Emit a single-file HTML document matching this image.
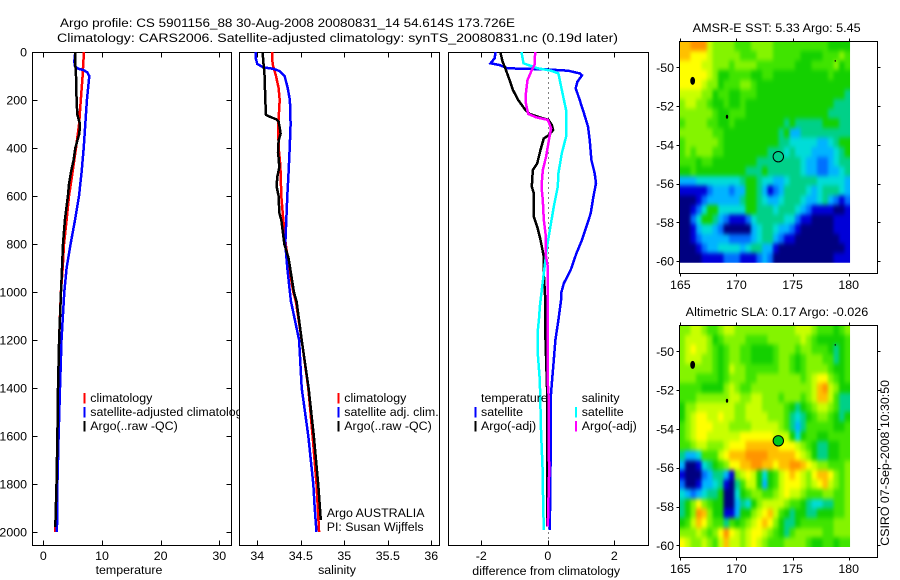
<!DOCTYPE html>
<html lang="en">
<head>
<meta charset="utf-8">
<title>Argo profile</title>
<style>
html,body{margin:0;padding:0;background:#fff;}
svg{display:block;font-family:"Liberation Sans",sans-serif;font-size:12.4px;fill:#000;}
text{fill:#000;}
.crisp{shape-rendering:crispEdges;}
</style>
</head>
<body>
<svg id="chart" xmlns="http://www.w3.org/2000/svg" width="900" height="580" viewBox="0 0 900 580">
<defs>
<filter id="soften" filterUnits="userSpaceOnUse" x="660" y="20" width="220" height="550" color-interpolation-filters="sRGB">
<feGaussianBlur stdDeviation="1.5 2.5"/>
<feComponentTransfer><feFuncA type="linear" slope="4"/></feComponentTransfer>
</filter>
</defs>
<rect x="0" y="0" width="900" height="580" fill="#fff"/>
<text x="60" y="27" textLength="455" lengthAdjust="spacingAndGlyphs">Argo profile: CS 5901156_88 30-Aug-2008 20080831_14 54.614S 173.726E</text>
<text x="57" y="42" textLength="561" lengthAdjust="spacingAndGlyphs">Climatology: CARS2006. Satellite-adjusted climatology: synTS_20080831.nc (0.19d later)</text>
<g id="panel-layer"></g>
<g id="map-layer"></g>
<text x="692.7" y="32" textLength="168" lengthAdjust="spacingAndGlyphs">AMSR-E SST: 5.33 Argo: 5.45</text>
<text x="685.7" y="316" textLength="182.6" lengthAdjust="spacingAndGlyphs">Altimetric SLA: 0.17 Argo: -0.026</text>
<text transform="translate(889,545.7) rotate(-90)" textLength="165.7" lengthAdjust="spacingAndGlyphs">CSIRO 07-Sep-2008 10:30:50</text>
</svg>
<script>
// ---------- profile data ----------
const tempTicks = [0, 10, 20, 30];
const salTicks = [34, 34.5, 35, 35.5, 36];
const diffTicks = [-2, 0, 2];
const depthTicks = [0, 200, 400, 600, 800, 1000, 1200, 1400, 1600, 1800, 2000];

const tempClimDepth = [0, 50, 100, 200, 300, 400, 500, 600, 700, 800, 900, 1000, 1200, 1400, 1600, 1800, 2000];
const tempClimValue = [6.93, 6.8, 6.7, 6.4, 6.1, 5.57, 5.0, 4.38, 3.98, 3.52, 3.3, 3.0, 2.7, 2.5, 2.4, 2.25, 2.05];
const tempSatDepth = [0, 40, 60, 70, 75, 85, 100, 200, 300, 400, 500, 600, 700, 800, 900, 1000, 1200, 1400, 1600, 1800, 1950, 2000];
const tempSatValue = [5.45, 5.28, 5.4, 5.97, 6.82, 7.5, 7.84, 7.44, 7.16, 6.88, 6.53, 6.08, 5.4, 4.66, 3.98, 3.58, 3.1, 2.85, 2.6, 2.4, 2.4, 2.25];
const tempArgoDepth = [0, 50, 100, 150, 200, 260, 280, 300, 340, 400, 450, 500, 550, 600, 700, 800, 900, 1000, 1200, 1400, 1600, 1800, 1980];
const tempArgoValue = [5.45, 5.45, 5.57, 5.63, 5.68, 5.8, 6.02, 6.25, 6.14, 5.45, 5.17, 4.72, 4.38, 4.2, 3.69, 3.35, 3.18, 3.01, 2.7, 2.5, 2.4, 2.25, 2.05];

const salClimDepth = [0, 50, 100, 150, 200, 250, 300, 400, 450, 500, 600, 650, 700, 800, 900, 1000, 1040, 1200, 1400, 1600, 1800, 2000];
const salClimValue = [34.169, 34.176, 34.215, 34.245, 34.257, 34.249, 34.241, 34.245, 34.26, 34.268, 34.276, 34.287, 34.299, 34.326, 34.368, 34.414, 34.444, 34.51, 34.586, 34.636, 34.68, 34.71];
const salSatDepth = [0, 30, 50, 60, 65, 70, 80, 100, 150, 200, 300, 400, 500, 600, 700, 800, 900, 1000, 1040, 1200, 1400, 1600, 1800, 1900, 2000];
const salSatValue = [33.98, 33.985, 34.0, 34.05, 34.088, 34.184, 34.26, 34.314, 34.349, 34.375, 34.383, 34.372, 34.36, 34.345, 34.333, 34.322, 34.345, 34.375, 34.387, 34.48, 34.51, 34.586, 34.644, 34.66, 34.68];
const salArgoDepth = [0, 40, 70, 100, 200, 262, 270, 280, 290, 320, 340, 370, 420, 440, 480, 520, 560, 600, 670, 700, 800, 860, 1000, 1040, 1200, 1400, 1600, 1800, 1950];
const salArgoValue = [34.061, 34.069, 34.077, 34.084, 34.092, 34.1, 34.146, 34.215, 34.245, 34.26, 34.268, 34.245, 34.238, 34.245, 34.253, 34.23, 34.222, 34.245, 34.253, 34.276, 34.31, 34.36, 34.421, 34.452, 34.51, 34.59, 34.65, 34.7, 34.73];

const diffTempSatDepth = [0, 26, 47, 54, 68, 72, 78, 89, 97, 124, 151, 200, 256, 311, 367, 450, 506, 547, 603, 672, 728, 783, 839, 908, 964, 1006, 1033, 1117, 1200, 1283, 1367, 1450, 1728, 1992];
const diffTempSatValue = [-1.57, -1.6, -1.72, -1.46, -1.21, -0.1, 0.61, 0.96, 1.03, 0.89, 0.84, 0.96, 1.09, 1.21, 1.26, 1.31, 1.41, 1.45, 1.37, 1.29, 1.16, 1.03, 0.86, 0.69, 0.48, 0.4, 0.4, 0.32, 0.23, 0.18, 0.13, 0.08, 0.08, 0.06];
const diffTempArgoDepth = [0, 40, 75, 117, 158, 200, 242, 258, 272, 283, 304, 325, 346, 360, 408, 464, 492, 561, 589, 686, 728, 783, 853, 922, 1019, 1075, 1200, 1408, 1978];
const diffTempArgoValue = [-1.43, -1.36, -1.26, -1.15, -1.05, -0.89, -0.67, -0.55, -0.25, 0.02, 0.12, 0.16, 0.04, -0.12, -0.22, -0.32, -0.45, -0.48, -0.42, -0.42, -0.32, -0.22, -0.12, -0.12, -0.08, -0.08, -0.07, -0.02, -0.02];
const diffSalSatDepth = [0, 47, 68, 78, 89, 158, 242, 353, 422, 506, 561, 644, 742, 811, 922, 1061, 1103, 1172, 1242, 1367, 1589, 1728, 1867, 1992];
const diffSalSatValue = [-0.79, -0.73, -0.3, 0.1, 0.32, 0.42, 0.55, 0.55, 0.42, 0.32, 0.3, 0.18, 0.06, -0.02, -0.12, -0.24, -0.26, -0.31, -0.31, -0.24, -0.2, -0.16, -0.14, -0.12];
const diffSalArgoDepth = [0, 54, 75, 117, 172, 214, 258, 272, 283, 318, 353, 394, 436, 492, 561, 617, 700, 756, 839, 894, 1075, 1380, 1422, 1756, 1978];
const diffSalArgoValue = [-0.38, -0.4, -0.48, -0.61, -0.66, -0.66, -0.59, -0.35, 0, 0.1, 0.05, 0, -0.05, -0.15, -0.19, -0.15, -0.12, -0.07, -0.07, 0, 0, 0, 0.02, 0.04, 0];

// ---------- map data ----------
const lonTicks = [165, 170, 175, 180];
const latTicks = [-50, -52, -54, -56, -58, -60];
const sstRows = [
"bbccc98888777888877777777776666",
"bbaaa98888877788877777666677787",
"aaaa998887888877777776667777867",
"aaaaa98667777667766666666667666",
"aaaa988677788766666666666666666",
"9999886776677766666666666666665",
"8998876676676666666666666666555",
"8888887667776666666666666665555",
"7888877667666666666565555566655",
"8888887766666666665633555555555",
"7888888766666666665544444334566",
"7878887766666666555454443333456",
"7776776666666655555555433223455",
"6676666666665556555555433223345",
"3334444444456654433455555444443",
"1111123332336653123555543455543",
"0001233333356654334555433453212",
"0012466444446655545554321111001",
"0024665321112455555442110000111",
"0013443200000345543321000000111",
"0012333332222345532110000000011",
"0001233444434553310000000000001",
"0000111122211123200000000000111"
];
const slaRows = [
"8899877899888888888889998777678",
"8999986788887777888888987666667",
"89a9987678877666678887887776567",
"8999887678877666678876788877567",
"8888887679887777778876788887667",
"8887777678887788888888789aa8767",
"7777666689877888888888889bc9866",
"7778888889988998887888789bb9755",
"6889999999889998888765678998755",
"689aa99a99889999888754567887656",
"789aaa9998888999998753577777667",
"789aa999999aaaaaa99964677667777",
"778998889aaabbbbbbaaa9876556677",
"53347779abbbccccbbbbba986556677",
"300145678aabbccbbabbccba9887778",
"100023553189a964679aba98abba878",
"2001334510579963679aaa989ab9878",
"4323455600467887789a99877788778",
"568a876600354689999877654455778",
"568cb8661136689ab97656655666778",
"679ba877576789aba86556777777888",
"8889878aca989aa9876578888877888",
"a9889879b9989a98777888876677677"
];
const levelColors = ["#000080","#0000d8","#0070ff","#00b4ff","#00dcd8","#00d088","#14d000","#40e400","#84f400","#c8ff00","#ffff00","#ffc000","#ff9400"];
const islandLon = [166.1, 169.16, 178.8];
const islandLat = [-50.7, -52.55, -49.67];
const islandSize = [4, 2, 1];
const argoLon = [173.73];
const argoLat = [-54.614];

// ---------- helpers ----------
const NS = "http://www.w3.org/2000/svg";
const panelLayer = document.getElementById("panel-layer");
const mapLayer = document.getElementById("map-layer");
const LINE_WIDTH = 2.5;
function makeEl(parent, tag, props) {
  const el = document.createElementNS(NS, tag);
  for (const k in props) el.setAttribute(k, props[k]);
  parent.appendChild(el);
  return el;
}
function linearAxis(v0, p0, v1, p1) {
  return function (v) { return p0 + (v - v0) * (p1 - p0) / (v1 - v0); };
}
const depthY = linearAxis(0, 52, 2000, 532);
const PANEL_TOP = 52.5, PANEL_BOTTOM = 545.5;

function drawPanel(cfg) {
  const g = makeEl(panelLayer, "g", {});
  
  
  const box = makeEl(g, "rect", {x: cfg.left, y: PANEL_TOP, width: cfg.right - cfg.left, height: PANEL_BOTTOM - PANEL_TOP, fill: "#fff", stroke: "#000", "stroke-width": 1, class: "crisp"});
  
  
  cfg.ticks.forEach(function (t) {
    const x = Math.round(cfg.xAxis(t)) + 0.5;
    const top = makeEl(g, "line", {x1: x, x2: x, y1: PANEL_TOP, y2: PANEL_TOP + 5, stroke: "#000", class: "crisp"});
    
    
    const bot = makeEl(g, "line", {x1: x, x2: x, y1: PANEL_BOTTOM - 5, y2: PANEL_BOTTOM, stroke: "#000", class: "crisp"});
    
    
    const lab = makeEl(g, "text", {x: cfg.xAxis(t), y: 560, "text-anchor": "middle"});
    lab.textContent = String(t);
    
    
  });
  cfg.series.forEach(function (s) {
    const pts = s.depth.map(function (d, i) { return cfg.xAxis(s.value[i]).toFixed(1) + "," + depthY(d).toFixed(1); }).join(" ");
    const line = makeEl(g, "polyline", {points: pts, fill: "none", stroke: s.color, "stroke-width": LINE_WIDTH, class: "crisp"});
    
    
  });
  return g;
}
function legendRow(g, x, y, color, label) {
  if (color) {
    const sw = makeEl(g, "rect", {x: x - 6.6, y: y - 9, width: 2, height: 10.5, fill: color, class: "crisp"});
    
    
  }
  const t = makeEl(g, "text", {x: x, y: y});
  t.textContent = label;
  
  
}
function plainText(g, x, y, label, anchor) {
  const t = makeEl(g, "text", {x: x, y: y, "text-anchor": anchor || "start"});
  t.textContent = label;
  
  
}

// ---------- temperature panel ----------
const tempAxis = linearAxis(0, 43.3, 30, 219.3);
const g1 = drawPanel({name: "temperature-panel", left: 32.5, right: 231.5, ticks: tempTicks, xAxis: tempAxis, series: [
  {name: "temperature-climatology-line", depth: tempClimDepth, value: tempClimValue, color: "#ff0000"},
  {name: "temperature-satellite-line", depth: tempSatDepth, value: tempSatValue, color: "#0000ff"},
  {name: "temperature-argo-line", depth: tempArgoDepth, value: tempArgoValue, color: "#000000"}
]});
depthTicks.forEach(function (d) {
  const y = Math.round(depthY(d)) + 0.5;
  const a = makeEl(g1, "line", {x1: 32.5, x2: 37.5, y1: y, y2: y, stroke: "#000", class: "crisp"});
  
  
  const b = makeEl(g1, "line", {x1: 226.5, x2: 231.5, y1: y, y2: y, stroke: "#000", class: "crisp"});
  
  
  const lab = makeEl(g1, "text", {x: 27, y: depthY(d) + 4.5, "text-anchor": "end"});
  lab.textContent = String(d);
  
  
});
legendRow(g1, 90.3, 402, "#ff0000", "climatology");
legendRow(g1, 90.3, 416, "#0000ff", "satellite-adjusted climatology");
legendRow(g1, 90.3, 430, "#000000", "Argo(..raw -QC)");
plainText(g1, 129, 574, "temperature", "middle");

// ---------- salinity panel ----------
const salAxis = linearAxis(34, 257.3, 36, 431.3);
const g2 = drawPanel({name: "salinity-panel", left: 239.5, right: 439.5, ticks: salTicks, xAxis: salAxis, series: [
  {name: "salinity-climatology-line", depth: salClimDepth, value: salClimValue, color: "#ff0000"},
  {name: "salinity-satellite-line", depth: salSatDepth, value: salSatValue, color: "#0000ff"},
  {name: "salinity-argo-line", depth: salArgoDepth, value: salArgoValue, color: "#000000"}
]});
legendRow(g2, 344.3, 402, "#ff0000", "climatology");
legendRow(g2, 344.3, 416, "#0000ff", "satellite adj. clim.");
legendRow(g2, 344.3, 430, "#000000", "Argo(..raw -QC)");
plainText(g2, 326.7, 517, "Argo AUSTRALIA");
plainText(g2, 326.7, 531, "PI: Susan Wijffels");
plainText(g2, 337, 574, "salinity", "middle");

// ---------- difference panel ----------
const diffAxis = linearAxis(-2, 481.3, 2, 614.3);
const g3 = drawPanel({name: "difference-panel", left: 448.5, right: 648.5, ticks: diffTicks, xAxis: diffAxis, series: []});
const zeroX = Math.round(diffAxis(0)) + 0.5;
const zeroLine = makeEl(g3, "line", {x1: zeroX, x2: zeroX, y1: PANEL_TOP, y2: PANEL_BOTTOM, stroke: "#000", "stroke-dasharray": "1 4", class: "crisp"});


[
  {name: "diff-temperature-satellite-line", depth: diffTempSatDepth, value: diffTempSatValue, color: "#0000ff"},
  {name: "diff-temperature-argo-line", depth: diffTempArgoDepth, value: diffTempArgoValue, color: "#000000"},
  {name: "diff-salinity-satellite-line", depth: diffSalSatDepth, value: diffSalSatValue, color: "#00ffff"},
  {name: "diff-salinity-argo-line", depth: diffSalArgoDepth, value: diffSalArgoValue, color: "#ff00ff"}
].forEach(function (s) {
  const pts = s.depth.map(function (d, i) { return diffAxis(s.value[i]).toFixed(1) + "," + depthY(d).toFixed(1); }).join(" ");
  const line = makeEl(g3, "polyline", {points: pts, fill: "none", stroke: s.color, "stroke-width": LINE_WIDTH, class: "crisp"});
  
  
});
legendRow(g3, 481, 402, null, "temperature");
legendRow(g3, 481, 416, "#0000ff", "satellite");
legendRow(g3, 481, 430, "#000000", "Argo(-adj)");
legendRow(g3, 581.7, 402, null, "salinity");
legendRow(g3, 581.7, 416, "#00ffff", "satellite");
legendRow(g3, 581.7, 430, "#ff00ff", "Argo(-adj)");
plainText(g3, 472.3, 575, "difference from climatology");

// ---------- maps ----------
function drawMap(cfg) {
  const g = makeEl(mapLayer, "g", {});
  
  
  const lonX = linearAxis(165, 680.3, 180, 848.7);
  const latY = linearAxis(-50, cfg.yAt50, -60, cfg.yAt60);
  const lonStart = 164.91, lonEnd = 180.12, latStart = -48.66, latEnd = -60.09;
  const nRows = cfg.rows.length;
  const clipId = cfg.name + "-clip";
  const defs = makeEl(g, "clipPath", {id: clipId});
  makeEl(defs, "rect", {x: lonX(lonStart), y: latY(latStart), width: lonX(lonEnd) - lonX(lonStart), height: latY(latEnd) - latY(latStart)});
  const clipped = makeEl(g, "g", {"clip-path": "url(#" + clipId + ")"});
  
  
  const cells = makeEl(clipped, "g", {filter: "url(#soften)"});
  
  
  cfg.rows.forEach(function (row, r) {
    const nCols = row.length;
    for (let c = 0; c < nCols; c++) {
      const x0 = lonX(lonStart + (lonEnd - lonStart) * c / nCols);
      const x1 = lonX(lonStart + (lonEnd - lonStart) * (c + 1) / nCols);
      const y0 = latY(latStart + (latEnd - latStart) * r / nRows);
      const y1 = latY(latStart + (latEnd - latStart) * (r + 1) / nRows);
      const cell = makeEl(cells, "rect", {x: x0.toFixed(1), y: y0.toFixed(1), width: (x1 - x0 + 0.6).toFixed(1), height: (y1 - y0 + 0.6).toFixed(1), fill: levelColors[parseInt(row.charAt(c), 16)], class: "crisp"});
      
      
    }
  });
  const frame = makeEl(g, "rect", {x: 679.5, y: cfg.top, width: 198, height: cfg.bottom - cfg.top, fill: "none", stroke: "#000", class: "crisp"});
  
  
  lonTicks.forEach(function (t) {
    const x = Math.round(lonX(t)) + 0.5;
    const a = makeEl(g, "line", {x1: x, x2: x, y1: cfg.top - 3, y2: cfg.top, stroke: "#000", class: "crisp"});
    
    
    const b = makeEl(g, "line", {x1: x, x2: x, y1: cfg.bottom, y2: cfg.bottom + 3, stroke: "#000", class: "crisp"});
    
    
    const lab = makeEl(g, "text", {x: lonX(t), y: cfg.labelY, "text-anchor": "middle"});
    lab.textContent = String(t);
    
    
  });
  latTicks.forEach(function (t) {
    const y = Math.round(latY(t)) + 0.5;
    const a = makeEl(g, "line", {x1: 676.5, x2: 679.5, y1: y, y2: y, stroke: "#000", class: "crisp"});
    
    
    const b = makeEl(g, "line", {x1: 877.5, x2: 880.5, y1: y, y2: y, stroke: "#000", class: "crisp"});
    
    
    const lab = makeEl(g, "text", {x: 674, y: latY(t) + 4.5, "text-anchor": "end"});
    lab.textContent = String(t);
    
    
  });
  islandLon.forEach(function (lon, i) {
    const s = islandSize[i];
    const isle = makeEl(g, "ellipse", {cx: lonX(lon), cy: latY(islandLat[i]), rx: s * 0.6, ry: s, fill: "#000"});
    
    
  });
  const mark = makeEl(g, "circle", {cx: lonX(argoLon[0]), cy: latY(argoLat[0]), r: 5.2, fill: cfg.markFill, stroke: "#000", "stroke-width": 1});
  
  
}
drawMap({name: "sst-map", rows: sstRows, yAt50: 67.3, yAt60: 261, top: 41.5, bottom: 273.5, labelY: 289, markFill: "#00d08c"});
drawMap({name: "sla-map", rows: slaRows, yAt50: 351.3, yAt60: 545.3, top: 325.5, bottom: 557.5, labelY: 573, markFill: "#00c820"});
</script>
</body>
</html>
